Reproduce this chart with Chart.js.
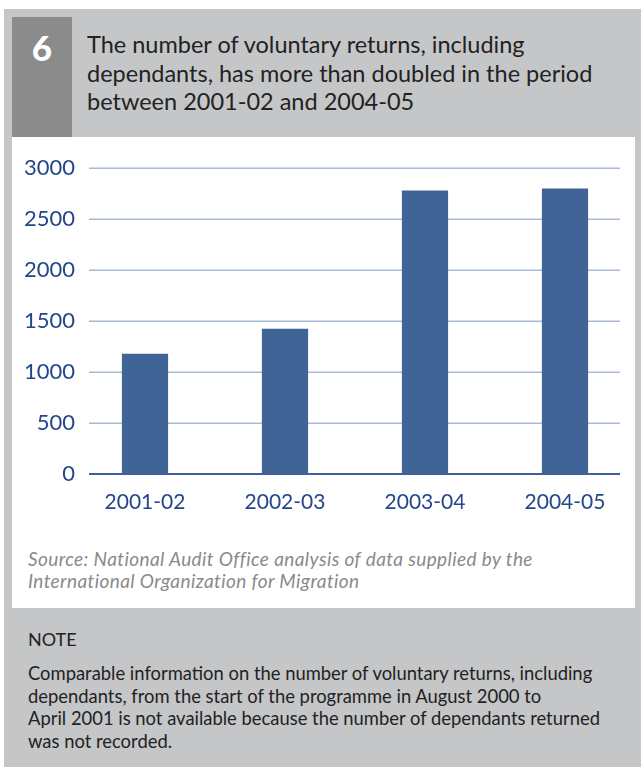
<!DOCTYPE html>
<html>
<head>
<meta charset="utf-8">
<script src="https://cdn.jsdelivr.net/npm/chart.js@4"></script>
<style>
  html, body { margin:0; padding:0; background:#ffffff; }
  body { width:641px; height:769px; position:relative; overflow:hidden; font-family: Lato, "Open Sans", sans-serif; }
  #panel { position:absolute; left:4px; top:9px; width:637px; height:758px; background:#c5c6c8; }
  #numbox { position:absolute; left:12px; top:17px; width:60px; height:120px; background:#8b8b8b; }
  #num { position:absolute; left:12px; top:27px; width:60px; text-align:center; color:#ffffff; font-weight:900; font-size:35px; line-height:40px; }
  #title { position:absolute; left:87px; top:30px; width:545px; color:#222222; font-size:23.5px; line-height:28.5px; }
  #white { position:absolute; left:12px; top:137px; width:623px; height:471px; background:#ffffff; }
  #chartwrap { position:absolute; left:12px; top:137px; width:623px; height:400px; }
  #source { position:absolute; left:28px; top:548px; color:#8a8a8a; font-style:italic; font-size:19px; letter-spacing:0.4px; line-height:22px; }
  #notehead { position:absolute; left:28px; top:628px; color:#222222; font-size:18px; line-height:22px; }
  #note { position:absolute; left:28px; top:662px; width:605px; color:#222222; font-size:18.4px; line-height:22.5px; }
</style>
</head>
<body>
<div id="panel"></div>
<div id="numbox"></div>
<div id="num">6</div>
<div id="title">The number of voluntary returns, including<br>dependants, has more than doubled in the period<br>between 2001-02 and 2004-05</div>
<div id="white"></div>
<div id="chartwrap"><canvas id="c" width="623" height="400"></canvas></div>
<div id="source">Source: National Audit Office analysis of data supplied by the<br>International Organization for Migration</div>
<div id="notehead">NOTE</div>
<div id="note">Comparable information on the number of voluntary returns, including<br>dependants, from the start of the programme in August 2000 to<br>April 2001 is not available because the number of dependants returned<br>was not recorded.</div>
<script>
const categories = ["2001-02", "2002-03", "2003-04", "2004-05"];
const returnsValues = [1180, 1425, 2780, 2800];
const yTicks = [0, 500, 1000, 1500, 2000, 2500, 3000];
const yTickLabels = ["0", "500", "1000", "1500", "2000", "2500", "3000"];

const gridPlugin = {
  id: 'customGrid',
  beforeDatasetsDraw(chart) {
    const ctx = chart.ctx, y = chart.scales.y;
    ctx.save();
    ctx.strokeStyle = '#a9b9d8';
    ctx.lineWidth = 1.5;
    yTicks.forEach(v => {
      if (v === 0) return;
      const py = Math.round(y.getPixelForValue(v)) + 0.25;
      ctx.beginPath(); ctx.moveTo(77, py); ctx.lineTo(608, py); ctx.stroke();
    });
    ctx.restore();
  },
  afterDatasetsDraw(chart) {
    const ctx = chart.ctx, y = chart.scales.y;
    ctx.save();
    ctx.strokeStyle = '#3e5f9c';
    ctx.lineWidth = 2;
    const py = y.getPixelForValue(0);
    ctx.beginPath(); ctx.moveTo(77, py); ctx.lineTo(608, py); ctx.stroke();
    ctx.restore();
  }
};

new Chart(document.getElementById('c'), {
  type: 'bar',
  data: {
    labels: categories,
    datasets: [{ data: returnsValues, backgroundColor: '#416496', borderWidth: 0, barPercentage: 0.33, categoryPercentage: 1 }]
  },
  options: {
    responsive: false,
    animation: false,
    layout: { padding: { top: 31, right: 0, left: 0, bottom: 0 } },
    plugins: { legend: { display: false }, tooltip: { enabled: false } },
    scales: {
      x: {
        grid: { display: false, drawTicks: false },
        border: { display: false },
        ticks: { color: '#23478a', font: { family: 'Lato', size: 21 }, padding: 16 },
        afterFit: s => { s.height = 63; }
      },
      y: {
        min: 0, max: 3000,
        afterBuildTicks: s => { s.ticks = yTicks.map(v => ({ value: v })); },
        grid: { display: false, drawTicks: false },
        border: { display: false },
        ticks: {
          color: '#23478a', font: { family: 'Lato', size: 22 }, padding: 0,
          callback: (v) => yTickLabels[yTicks.indexOf(v)]
        },
        afterFit: s => { s.width = 63; }
      }
    }
  },
  plugins: [gridPlugin]
});
</script>
</body>
</html>
